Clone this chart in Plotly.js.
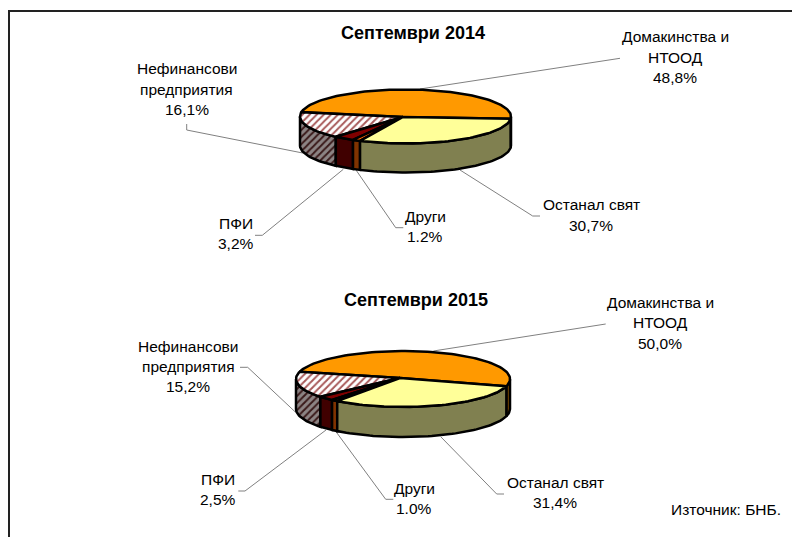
<!DOCTYPE html>
<html><head><meta charset="utf-8">
<script src="https://cdn.plot.ly/plotly-3.0.1.min.js"></script>
<style>html,body{margin:0;padding:0;background:#fff}#c{width:792px;height:537px}</style>
</head><body><div id="c"></div>
<script>
// --- data ---
const categories = ["Домакинства и НТООД","Нефинансови предприятия","ПФИ","Други","Останал свят"];
const values2014 = [48.8,16.1,3.2,1.2,30.7];
const values2015 = [50.0,15.2,2.5,1.0,31.4];
const labels2014 = [["Домакинства и","НТООД","48,8%"],["Нефинансови","предприятия","16,1%"],["ПФИ","3,2%"],["Други","1.2%"],["Останал свят","30,7%"]];
const labels2015 = [["Домакинства и","НТООД","50,0%"],["Нефинансови","предприятия","15,2%"],["ПФИ","2,5%"],["Други","1.0%"],["Останал свят","31,4%"]];
const title2014 = "Септември 2014";
const title2015 = "Септември 2015";
const sourceNote = "Източник: БНБ.";

// --- styles ---
const topColors  = ["#FF9900",null,"#800000","#FF6600","#FFFF99"];
const wallColors = ["#804C00",null,"#400000","#803300","#808050"];
const FONT = "Liberation Sans, Arial, sans-serif";

// --- layout of each pie ---
const pie2014 = {cx:405.5,cy:116.5,rx:105.5,ry:27,depth:29,start:-5,apex:[403,117],
  values:values2014,labels:labels2014,title:title2014,titlePos:[413,32.5],
  labelPos:[[675,[36.5,57.5,77.5]],[186.5,[68.5,89,109.5]],[236,[223.5,243.5]],[425,[216,236]],[591,[204.5,225]]],
  leaders:[[[420,89],[620,58.3]],
           [[186.7,124],[186.7,130],[302.7,153]],
           [[255,235.3],[262.3,235.3],[343.3,169.3]],
           [[403.3,227.7],[395.7,227.7],[356,170]],
           [[540,216],[532.7,216],[460,170]]]};
const pie2015 = {cx:403,cy:379,rx:107,ry:28,depth:30,start:-15,apex:[400,378],
  values:values2015,labels:labels2015,title:title2015,titlePos:[416,299.5],
  labelPos:[[660,[302,322.5,343]],[188,[346,366,386]],[218,[479,499]],[414,[488,508]],[555,[482.5,502.5]]],
  leaders:[[[433.3,351],[605.7,324]],
           [[240,367.3],[247.7,367.3],[295,411.7]],
           [[238.3,491],[245,491],[326,430]],
           [[393.3,499.3],[385.7,499.3],[336,431.7]],
           [[504,494],[496.7,494],[440.7,436.7]]]};

const traces = [], annotations = [];
const rad = d => d*Math.PI/180;

function arc(p,a,b,dy){
  const n = Math.max(2,Math.ceil(Math.abs(b-a)/2)), xs=[], ys=[];
  for(let i=0;i<=n;i++){
    const t=a+(b-a)*i/n;
    xs.push(p.cx+p.rx*Math.cos(rad(t)));
    ys.push(p.cy-p.ry*Math.sin(rad(t))+dy);
  }
  return [xs,ys];
}
function poly(xs,ys,color,pattern){
  const tr={type:"scatter",mode:"lines",x:xs,y:ys,fill:"toself",fillcolor:color||"#fff",
    line:{color:"#000",width:2.5},hoverinfo:"skip",showlegend:false};
  if(pattern) tr.fillpattern=pattern;
  traces.push(tr);
}
function drawPie(p){
  // leader lines under the pie
  p.leaders.forEach(l=>traces.push({type:"scatter",mode:"lines",x:l.map(q=>q[0]),y:l.map(q=>q[1]),
    line:{color:"#808080",width:1},hoverinfo:"skip",showlegend:false}));
  const total=p.values.reduce((s,v)=>s+v,0);
  const spans=[]; let a=p.start;
  p.values.forEach(v=>{const b=a+v/total*360;spans.push([a,b]);a=b;});
  // visible front walls, 180..360 deg
  spans.forEach((s,i)=>{
    [[s[0],s[1]],[s[0]+360,s[1]+360]].forEach(r=>{
      const lo=Math.max(r[0],180),hi=Math.min(r[1],360);
      if(hi<=lo) return;
      const t=arc(p,lo,hi,0),bt=arc(p,hi,lo,p.depth);
      const xs=t[0].concat(bt[0]),ys=t[1].concat(bt[1]);
      xs.push(xs[0]);ys.push(ys[0]);
      poly(xs,ys,wallColors[i]||"#8a7a7a",wallColors[i]?null:
        {shape:"/",bgcolor:"#8c8484",fgcolor:"#3a1a1a",size:5,solidity:0.4});
    });
  });
  // top faces
  spans.forEach((s,i)=>{
    const t=arc(p,s[0],s[1],0);
    const xs=[p.apex[0]].concat(t[0],[p.apex[0]]),ys=[p.apex[1]].concat(t[1],[p.apex[1]]);
    poly(xs,ys,topColors[i]||"#fff",topColors[i]?null:
      {shape:"/",bgcolor:"#ffffff",fgcolor:"#a85a5a",size:5,solidity:0.4});
  });
  // text
  p.labels.forEach((lines,i)=>{
    const lp=p.labelPos[i];
    lines.forEach((txt,j)=>annotations.push({xref:"x",yref:"y",x:lp[0],y:lp[1][j],text:txt,showarrow:false,
      xanchor:"center",yanchor:"middle",font:{family:FONT,size:15.5,color:"#000"}}));
  });
  annotations.push({xref:"x",yref:"y",x:p.titlePos[0],y:p.titlePos[1],text:"<b>"+p.title+"</b>",showarrow:false,
    xanchor:"center",yanchor:"middle",font:{family:FONT,size:18,color:"#000"}});
}
drawPie(pie2014);
drawPie(pie2015);
annotations.push({xref:"x",yref:"y",x:725.5,y:509.5,text:sourceNote,showarrow:false,xanchor:"center",yanchor:"middle",
  font:{family:FONT,size:15.5,color:"#000"}});

const layout={width:792,height:537,margin:{l:0,r:0,t:0,b:0},paper_bgcolor:"#fff",plot_bgcolor:"#fff",showlegend:false,
  xaxis:{range:[0,792],visible:false,fixedrange:true},
  yaxis:{range:[537,0],visible:false,fixedrange:true},
  annotations:annotations,
  shapes:[{type:"line",xref:"x",yref:"y",x0:9,y0:11,x1:792,y1:11,line:{color:"#222",width:2}},
          {type:"line",xref:"x",yref:"y",x0:9,y0:10,x1:9,y1:537,line:{color:"#222",width:2}}]};
Plotly.newPlot("c",traces,layout,{displayModeBar:false,staticPlot:true});
</script></body></html>
